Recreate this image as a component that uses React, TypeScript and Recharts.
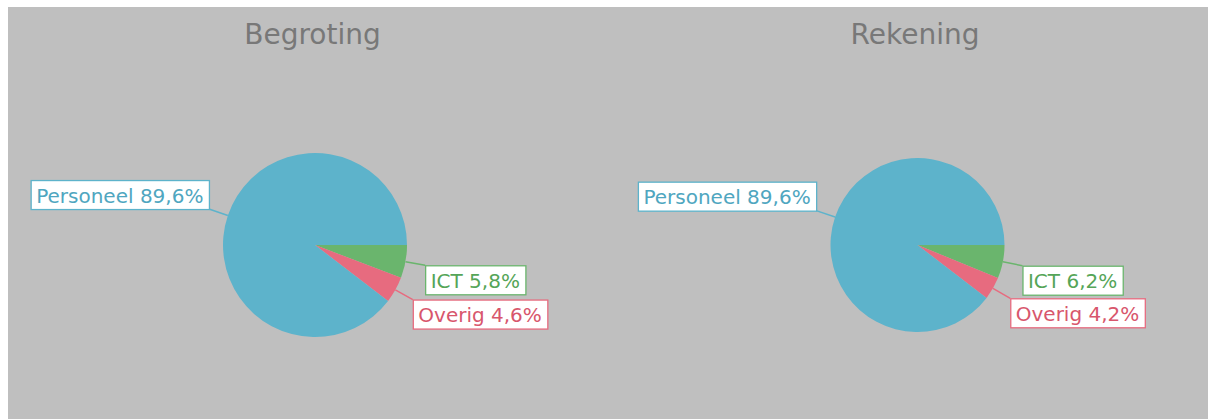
import { useEffect, useLayoutEffect, useRef, useState } from "react";
import { Cell, Pie, PieChart } from "recharts";

const categories = ["ICT", "Overig", "Personeel"];
const begrotingValues = [5.8, 4.6, 89.6];
const rekeningValues = [6.2, 4.2, 89.6];
const titles = ["Begroting", "Rekening"];

const COLORS = ["#6ab56d", "#e76b7f", "#5db3cb"];
const TEXT_COLORS = ["#55a558", "#d8566c", "#4fa6c0"];
const FONT = "'DejaVu Sans', Verdana, sans-serif";

const toData = (values: number[]) =>
	categories.map((name, i) => ({ name, value: values[i] }));

const RADIAN = Math.PI / 180;

function LabelBox({
	x,
	y,
	left,
	text,
	index,
}: {
	x: number;
	y: number;
	left: boolean;
	text: string;
	index: number;
}) {
	const ref = useRef<SVGTextElement>(null);
	const [w, setW] = useState(0);
	useLayoutEffect(() => {
		if (ref.current) setW(ref.current.getBBox().width);
	}, [text]);
	const boxW = w + 11;
	const boxH = 29;
	const bx = left ? x - boxW : x;
	const by = left ? y - boxH : y;
	return (
		<g>
			<rect
				x={bx + 0.5}
				y={by + 0.5}
				width={boxW}
				height={boxH}
				fill="#ffffff"
				stroke={COLORS[index]}
				strokeWidth={1.3}
			/>
			<text
				ref={ref}
				x={bx + 5.5}
				y={by + boxH / 2 + 1}
				dominantBaseline="central"
				fill={TEXT_COLORS[index]}
				fontFamily={FONT}
				fontSize={20}
			>
				{text}
			</text>
		</g>
	);
}

const renderLabel = (props: any) => {
	const { cx, cy, midAngle, outerRadius, name, value, index } = props;
	const cos = Math.cos(-midAngle * RADIAN);
	const sin = Math.sin(-midAngle * RADIAN);
	const sx = cx + outerRadius * cos;
	const sy = cy + outerRadius * sin;
	const ex = cx + (outerRadius + 20) * cos;
	const ey = cy + (outerRadius + 20) * sin;
	const text = `${name} ${Number(value).toFixed(1).replace(".", ",")}%`;
	return (
		<g key={`lbl-${index}`}>
			<line x1={sx} y1={sy} x2={ex} y2={ey} stroke={COLORS[index]} strokeWidth={1.5} />
			<LabelBox x={ex} y={ey} left={cos < 0} text={text} index={index} />
		</g>
	);
};

function Panel({
	title,
	values,
	cx,
	radius,
	titleCenter,
}: {
	title: string;
	values: number[];
	cx: number;
	radius: number;
	titleCenter: number;
}) {
	return (
		<div style={{ position: "relative", width: 600, height: 412 }}>
			<div
				style={{
					position: "absolute",
					left: titleCenter - 150,
					width: 300,
					top: 14,
					textAlign: "center",
					fontFamily: FONT,
					fontSize: 28,
					lineHeight: "28px",
					color: "#787878",
				}}
			>
				{title}
			</div>
			<PieChart width={600} height={412} margin={{ top: 0, right: 0, bottom: 0, left: 0 }}>
				<Pie
					data={toData(values)}
					dataKey="value"
					nameKey="name"
					cx={cx}
					cy={238}
					outerRadius={radius}
					startAngle={0}
					endAngle={-360}
					stroke="none"
					label={renderLabel}
					labelLine={false}
					isAnimationActive={false}
				>
					{categories.map((c, i) => (
						<Cell key={c} fill={COLORS[i]} />
					))}
				</Pie>
			</PieChart>
		</div>
	);
}

export default function App() {
	useEffect(() => {
		document.documentElement.style.overflow = "hidden";
	}, []);
	return (
		<div
			style={{
				position: "absolute",
				left: 8,
				top: 7,
				display: "flex",
				width: 1200,
				height: 412,
				background: "#bfbfbf",
			}}
		>
			<Panel title={titles[0]} values={begrotingValues} cx={307} radius={92} titleCenter={304.5} />
			<Panel title={titles[1]} values={rekeningValues} cx={309.5} radius={87} titleCenter={307} />
		</div>
	);
}
